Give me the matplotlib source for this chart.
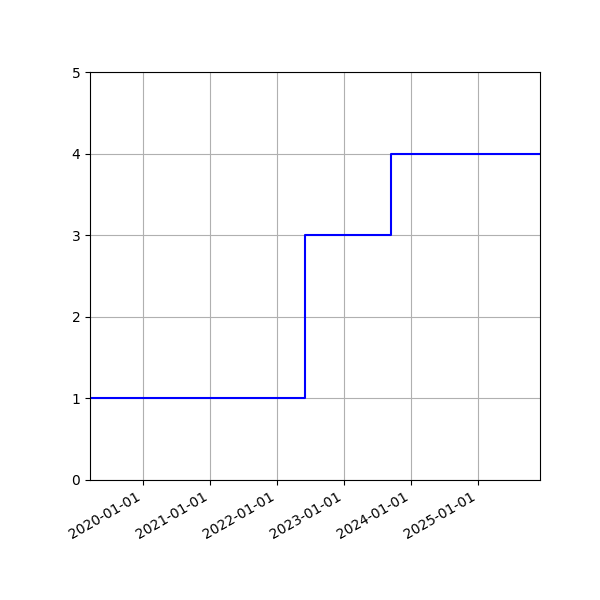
import matplotlib

matplotlib.use("Agg")

import matplotlib.dates as mdates
import matplotlib.pyplot as plt
import numpy as np

# step change dates and the level held from each date on
dates = np.array(["2019-03-17", "2022-06-01", "2023-09-13", "2025-12-05"], dtype="datetime64[D]")
levels = [1, 3, 4, 4]

fig, ax = plt.subplots(figsize=(6, 6), dpi=100)
ax.plot(dates, levels, drawstyle="steps-post", color="blue", linewidth=1.5)
ax.set_xlim(dates[0], dates[-1])
ax.set_ylim(0, 5)
ax.xaxis.set_major_locator(mdates.YearLocator())
ax.xaxis.set_major_formatter(mdates.DateFormatter("%Y-%m-%d"))
ax.grid(True)
fig.autofmt_xdate()
fig.subplots_adjust(left=0.15, right=0.9, top=0.88, bottom=0.2)
fig.savefig("out.png", dpi=100)
